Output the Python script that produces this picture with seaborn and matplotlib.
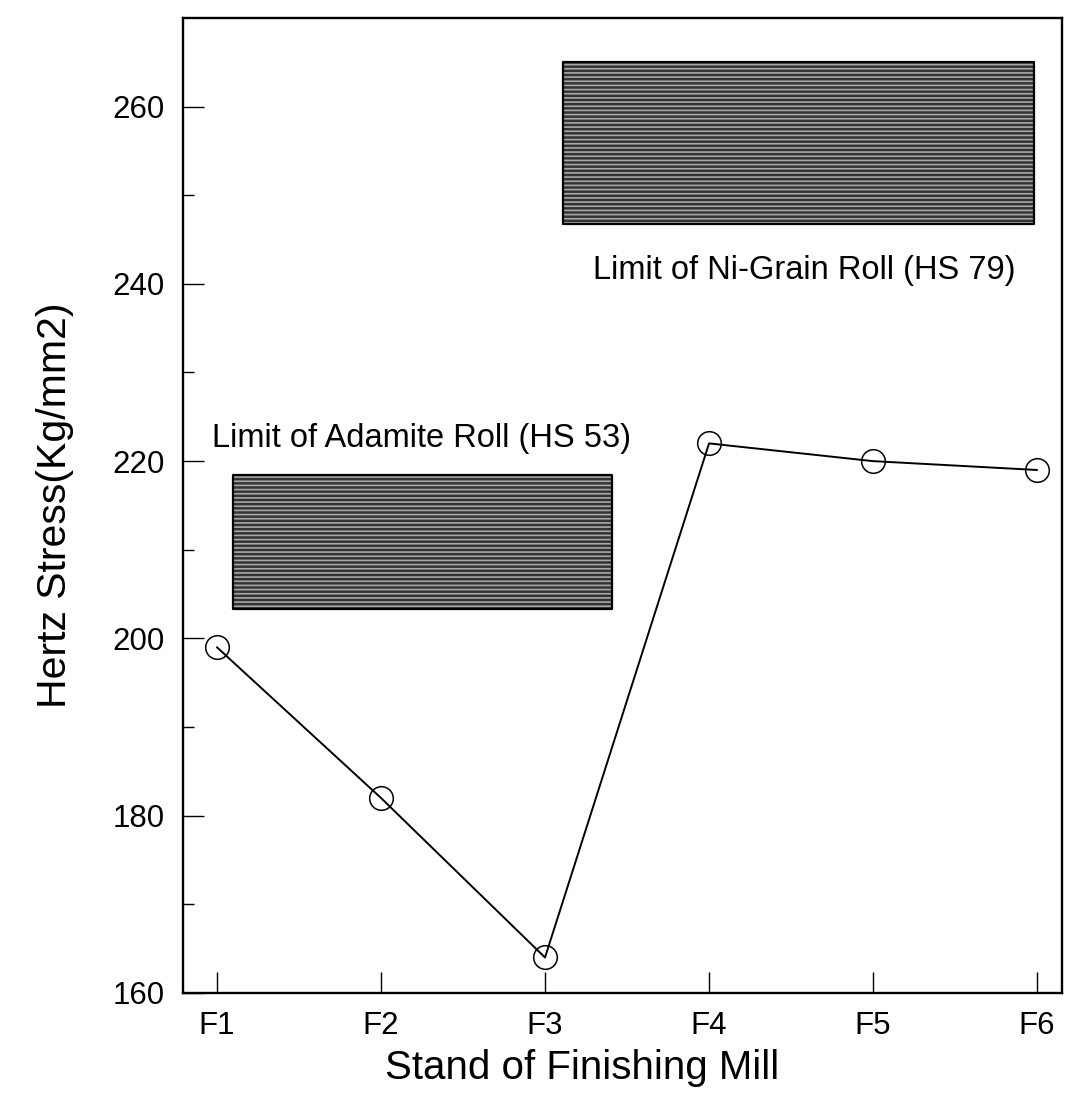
import numpy as np
import pandas as pd
import matplotlib
matplotlib.use('Agg')
import matplotlib.pyplot as plt
import seaborn as sns

# data
stands = ['F1', 'F2', 'F3', 'F4', 'F5', 'F6']
hertz_stress = [199, 182, 164, 222, 220, 219]

# limit bands (stand index range, stress range)
ni_grain_x = [2.11, 4.98]
ni_grain_y = [246.8, 265.0]
adamite_x = [0.10, 2.41]
adamite_y = [203.3, 218.4]
ni_grain_label = 'Limit of Ni-Grain Roll (HS 79)'
adamite_label = 'Limit of Adamite Roll (HS 53)'

sns.set_style('ticks')
plt.rcParams['font.family'] = ['Liberation Sans', 'DejaVu Sans']
plt.rcParams['hatch.linewidth'] = 1.2
plt.rcParams['text.color'] = 'black'
plt.rcParams['axes.labelcolor'] = 'black'
plt.rcParams['xtick.color'] = 'black'
plt.rcParams['ytick.color'] = 'black'

df = pd.DataFrame({'stand': np.arange(len(stands)), 'stress': hertz_stress})

fig = plt.figure(figsize=(10.72, 10.95), dpi=100)
ax = fig.add_axes([0.1707, 0.0932, 0.8200, 0.8904])

# shaded limit bands
for bx, by in [(ni_grain_x, ni_grain_y), (adamite_x, adamite_y)]:
    ax.fill_between(bx, by[0], by[1], facecolor='#333333', edgecolor='none', zorder=1)
    ax.fill_between(bx, by[0], by[1], facecolor='none', edgecolor='#a8a8a8',
                    hatch='----', linewidth=0, zorder=2)
    ax.fill_between(bx, by[0], by[1], facecolor='none', edgecolor='black',
                    linewidth=1.6, zorder=3)

sns.lineplot(data=df, x='stand', y='stress', ax=ax, color='black', linewidth=1.4,
             marker='o', markersize=17, markerfacecolor='none',
             markeredgecolor='black', markeredgewidth=1.1, zorder=4)

ax.text(3.58, 241.5, ni_grain_label, fontsize=23.5, ha='center', va='center')
ax.text(1.25, 222.6, adamite_label, fontsize=23.5, ha='center', va='center')

ax.set_xlim(-0.207, 5.152)
ax.set_ylim(160, 270)
ax.set_xticks(np.arange(len(stands)))
ax.set_xticklabels(stands)
ax.set_yticks([160, 180, 200, 220, 240, 260])
ax.set_yticks(np.arange(170, 270, 20), minor=True)

ax.tick_params(axis='both', which='major', direction='in', length=15, width=1.0,
               labelsize=22.5)
ax.tick_params(axis='y', which='major', pad=13)
ax.tick_params(axis='x', which='major', pad=13)
ax.tick_params(axis='y', which='minor', direction='in', length=8, width=1.0)

for s in ax.spines.values():
    s.set_visible(True)
    s.set_linewidth(1.7)
    s.set_color('black')

ax.set_xlabel('Stand of Finishing Mill', fontsize=29)
ax.set_ylabel('Hertz Stress(Kg/mm2)', fontsize=29.5)
ax.xaxis.set_label_coords(0.454, -0.058)
ax.yaxis.set_label_coords(-0.124, 0.5)

fig.savefig('out.png', dpi=100)
